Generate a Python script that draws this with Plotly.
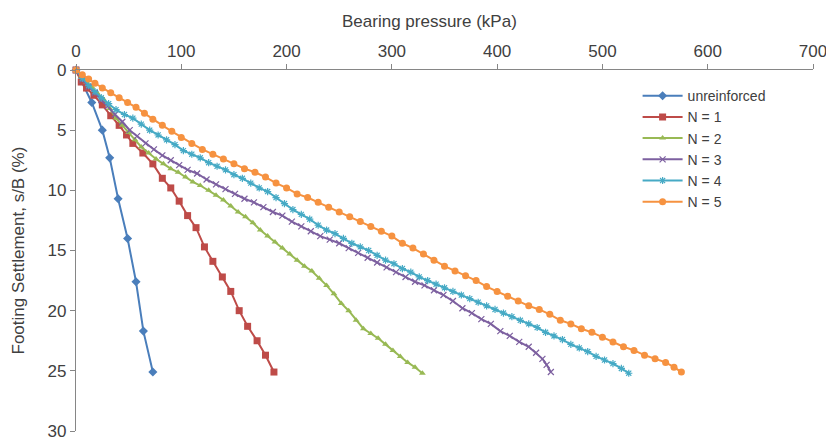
import plotly.graph_objects as go

# ---------------- data ----------------
unreinf_x = [0, 15, 25, 32, 40, 49, 57, 64, 73]
unreinf_y = [0, 2.7, 5.0, 7.3, 10.7, 14.0, 17.6, 21.7, 25.1]

n1_x = [0, 5, 10, 17, 25, 33, 41, 48, 54, 63.5, 73, 82, 90, 98, 106, 114, 122, 130, 139, 147,
        155, 163, 172, 180, 188]
n1_y = [0, 1.0, 1.5, 2.1, 2.9, 3.8, 4.6, 5.4, 6.1, 6.9, 7.8, 9.0, 9.8, 10.9, 12.1, 13.1, 14.7, 15.9, 17.2, 18.4,
        20.0, 21.3, 22.5, 23.7, 25.1]

n2_x = [0, 5, 10, 15, 20, 26, 32, 38, 44, 50, 56, 62, 69, 76, 83, 90, 97, 104, 111, 118,
        126, 133, 140, 147, 154, 161, 168, 175, 182, 189, 196, 203, 210, 217, 224, 231, 238, 245, 252, 259,
        266, 273, 280, 287, 294, 301, 308, 315, 322, 329]
n2_y = [0, 0.5, 1.0, 1.4, 1.9, 2.4, 3.2, 4.0, 4.6, 5.2, 5.8, 6.4, 6.9, 7.4, 7.8, 8.2, 8.5, 8.9, 9.3, 9.6,
        10.0, 10.4, 10.8, 11.3, 11.8, 12.2, 12.7, 13.3, 13.8, 14.3, 14.8, 15.3, 15.8, 16.3, 16.7, 17.3, 17.9, 18.6, 19.4, 20.0,
        20.8, 21.5, 21.9, 22.3, 22.8, 23.3, 23.8, 24.3, 24.7, 25.2]

n3_x = [0, 6, 12, 18, 24, 30, 37, 44, 51, 58, 66, 74, 82, 90, 98, 106, 115, 124, 133, 142,
        151, 160, 169, 178, 187, 196, 205, 214, 223, 232, 241, 250, 259, 268, 277, 286, 295, 304, 313, 322,
        331, 340, 349, 358, 367, 376, 385, 394, 403, 412, 421, 430, 437, 443, 447, 451]
n3_y = [0, 0.8, 1.4, 1.9, 2.5, 3.0, 3.7, 4.3, 5.0, 5.5, 6.1, 6.6, 7.1, 7.5, 7.9, 8.3, 8.6, 9.1, 9.5, 9.9,
        10.3, 10.7, 11.0, 11.4, 11.8, 12.1, 12.6, 13.0, 13.4, 13.8, 14.1, 14.4, 14.8, 15.2, 15.6, 16.0, 16.4, 16.8, 17.2, 17.6,
        17.9, 18.3, 18.7, 19.2, 19.8, 20.2, 20.7, 21.1, 21.7, 22.1, 22.6, 23.0, 23.5, 24.0, 24.5, 25.1]

n4_x = [0, 6, 12, 18, 24, 31, 38, 46, 54, 62, 70, 78, 86, 94, 102, 110, 118, 126, 134, 142,
        150, 158, 166, 174, 182, 190, 198, 206, 214, 222, 230, 238, 246, 254, 262, 270, 278, 286, 294, 302,
        310, 318, 326, 334, 342, 350, 358, 366, 374, 382, 390, 398, 406, 414, 422, 430, 438, 446, 454, 462,
        470, 478, 486, 494, 502, 510, 518, 525]
n4_y = [0, 0.7, 1.3, 1.8, 2.3, 2.8, 3.3, 3.7, 4.0, 4.5, 5.0, 5.4, 5.8, 6.2, 6.7, 7.0, 7.3, 7.7, 8.0, 8.3,
        8.7, 9.0, 9.4, 9.8, 10.1, 10.6, 11.1, 11.6, 12.0, 12.4, 12.9, 13.3, 13.6, 14.0, 14.4, 14.7, 15.0, 15.4, 15.8, 16.1,
        16.5, 16.8, 17.2, 17.5, 17.8, 18.1, 18.4, 18.7, 19.0, 19.3, 19.6, 19.9, 20.2, 20.5, 20.8, 21.1, 21.4, 21.8, 22.1, 22.4,
        22.8, 23.1, 23.4, 23.8, 24.1, 24.4, 24.8, 25.2]

n5_x = [0, 6, 12, 18, 25, 33, 41, 49, 57, 65, 73, 82, 91, 100, 110, 120, 130, 140, 150, 160,
        170, 180, 190, 200, 210, 220, 230, 240, 250, 260, 270, 280, 290, 300, 310, 320, 330, 340, 350, 360,
        370, 380, 390, 400, 410, 420, 430, 440, 450, 460, 470, 480, 490, 500, 510, 520, 530, 540, 550, 560,
        568, 575]
n5_y = [0, 0.4, 0.75, 1.1, 1.5, 1.9, 2.3, 2.7, 3.1, 3.6, 4.1, 4.6, 5.1, 5.6, 6.1, 6.6, 7.0, 7.4, 7.8, 8.2,
        8.5, 8.9, 9.4, 9.8, 10.3, 10.6, 11.0, 11.4, 11.8, 12.2, 12.6, 13.0, 13.4, 13.8, 14.4, 14.8, 15.3, 15.8, 16.3, 16.7,
        17.1, 17.5, 18.0, 18.4, 18.8, 19.2, 19.6, 19.9, 20.3, 20.8, 21.1, 21.5, 21.8, 22.2, 22.6, 23.0, 23.3, 23.7, 24.0, 24.3,
        24.7, 25.1]

series_names = ["unreinforced", "N = 1", "N = 2", "N = 3", "N = 4", "N = 5"]
x_ticks = [0, 100, 200, 300, 400, 500, 600, 700]
y_ticks = [0, 5, 10, 15, 20, 25, 30]

# ---------------- styling ----------------
colors = ["#4A7EBB", "#BE4B48", "#98B954", "#7D60A0", "#46AAC5", "#F69240"]
symbols = ["diamond", "square", "triangle-up", "x-thin", "asterisk", "circle"]
sizes = [7, 7, 6, 6, 6, 7]
FONT = "Liberation Sans, Arial, sans-serif"
TXT = "#404040"
AX = "#868686"

data = [(unreinf_x, unreinf_y), (n1_x, n1_y), (n2_x, n2_y), (n3_x, n3_y), (n4_x, n4_y), (n5_x, n5_y)]

fig = go.Figure()
for (xs, ys), name, c, s, sz in zip(data, series_names, colors, symbols, sizes):
    assert len(xs) == len(ys), name
    mk = dict(symbol=s, size=sz, color=c)
    if s in ("x-thin", "asterisk"):
        mk["line"] = dict(color=c, width=1.2)
    fig.add_trace(go.Scatter(x=xs, y=ys, mode="lines+markers", name=name,
                             line=dict(color=c, width=2), marker=mk, cliponaxis=False))

# the page body adds an 8px offset, so the figure is 8px smaller and margins shifted
fig.update_layout(
    width=826, height=433,
    margin=dict(l=68, r=21, t=62, b=10, autoexpand=False),
    paper_bgcolor="white", plot_bgcolor="white",
    font=dict(family=FONT, size=17, color=TXT),
    showlegend=True,
    legend=dict(x=0.762, y=0.972, xanchor="left", yanchor="top",
                font=dict(family=FONT, size=14, color=TXT),
                bgcolor="rgba(255,255,255,0)", itemwidth=40, tracegroupgap=0),
    xaxis=dict(side="top", range=[0, 700], tickvals=x_ticks, showgrid=False, zeroline=False,
               automargin=False,
               showline=True, linecolor=AX, linewidth=1.3, ticks="outside", ticklen=5,
               tickcolor=AX, tickfont=dict(family=FONT, size=17, color=TXT)),
    yaxis=dict(range=[30, 0], tickvals=y_ticks, showgrid=False, zeroline=False,
               automargin=False,
               showline=True, linecolor=AX, linewidth=1.3, ticks="outside", ticklen=5,
               tickcolor=AX, tickfont=dict(family=FONT, size=17, color=TXT)),
    annotations=[
        dict(text="Bearing pressure (kPa)", xref="paper", yref="paper", x=(429 - 76) / 737,
             y=1 + (70.5 - 22) / 361, xanchor="center", yanchor="middle", showarrow=False,
             font=dict(family=FONT, size=17, color=TXT)),
        dict(text="Footing Settlement, s/B (%)", xref="paper", yref="paper", x=(18 - 76) / 737,
             y=0.5, xanchor="center", yanchor="middle", textangle=-90, showarrow=False,
             font=dict(family=FONT, size=17, color=TXT)),
    ],
)

fig.write_html("out.html")
